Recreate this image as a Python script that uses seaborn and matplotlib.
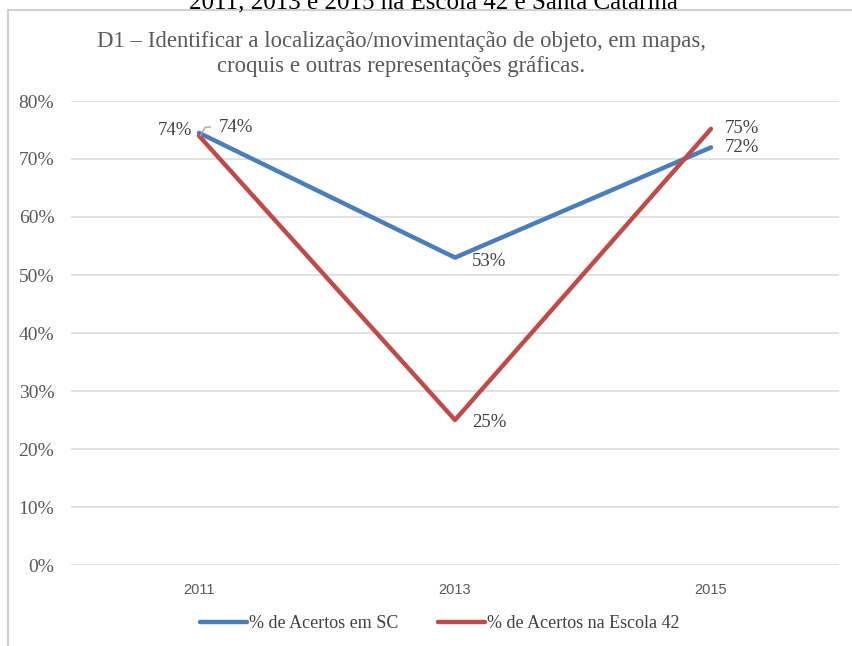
import matplotlib
matplotlib.use("Agg")
import matplotlib.pyplot as plt
import numpy as np
import pandas as pd
import seaborn as sns
from matplotlib.lines import Line2D
from matplotlib.ticker import FuncFormatter

# Data
years = ["2011", "2013", "2015"]
acertos_sc = [0.745, 0.53, 0.72]
acertos_escola = [0.74, 0.25, 0.752]
series_names = ["% de Acertos em SC", "% de Acertos na Escola 42"]
colors = ["#4A7EBB", "#BE4B48"]

sns.set_theme(style="white")
plt.rcParams["font.family"] = ["Liberation Serif", "DejaVu Serif"]

df = pd.DataFrame({
    "Ano": years * 2,
    "Valor": acertos_sc + acertos_escola,
    "Serie": [series_names[0]] * len(years) + [series_names[1]] * len(years),
})

fig = plt.figure(figsize=(8.52, 6.46), dpi=100)
ax = fig.add_axes([71 / 852, 1 - 565 / 646, 768 / 852, 464 / 646])

sns.lineplot(data=df, x="Ano", y="Valor", hue="Serie", palette=colors,
             linewidth=3.2, ax=ax, legend=False, sort=False)

ax.set_xlim(-0.5, 2.5)
ax.set_ylim(0, 0.8)
ax.set_yticks(np.arange(0, 0.81, 0.1))
ax.yaxis.set_major_formatter(FuncFormatter(lambda v, p: f"{v*100:.0f}%"))
ax.set_xlabel("")
ax.set_ylabel("")
ax.grid(axis="y", color="#D9D9D9", linewidth=1.1)
ax.set_axisbelow(True)
for s in ax.spines.values():
    s.set_visible(False)
ax.tick_params(axis="y", labelsize=14, colors="#595959", length=0, pad=12)
ax.tick_params(axis="x", labelsize=10.5, colors="#595959", length=0, pad=13)
for lbl in ax.get_xticklabels():
    lbl.set_family(["Liberation Sans Narrow", "Liberation Sans", "DejaVu Sans"])

# data labels
lab_kw = dict(fontsize=13.5, color="#404040")
ax.annotate(f"{acertos_sc[0]*100:.0f}%", (0, acertos_sc[0]), xytext=(-5, 2),
            textcoords="offset points", ha="right", va="center", **lab_kw)
ax.annotate(f"{acertos_escola[0]*100:.0f}%", (0, acertos_escola[0]), xytext=(14, 6),
            textcoords="offset points", ha="left", va="center", **lab_kw)
ax.plot([0.005, 0.025, 0.045], [acertos_escola[0], 0.755, 0.755],
        color="#A6A6A6", lw=1)
ax.annotate(f"{acertos_sc[1]*100:.0f}%", (1, acertos_sc[1]), xytext=(12, -3),
            textcoords="offset points", ha="left", va="center", **lab_kw)
ax.annotate(f"{acertos_escola[1]*100:.0f}%", (1, acertos_escola[1]), xytext=(12, -2),
            textcoords="offset points", ha="left", va="center", **lab_kw)
ax.annotate(f"{acertos_escola[2]*100:.0f}%", (2, acertos_escola[2]), xytext=(10, 0),
            textcoords="offset points", ha="left", va="center", **lab_kw)
ax.annotate(f"{acertos_sc[2]*100:.0f}%", (2, acertos_sc[2]), xytext=(10, 0),
            textcoords="offset points", ha="left", va="center", **lab_kw)

# titles (the first line is cut by the top edge, as in the source)
fig.text(433 / 852, 1 - 8 / 646, "2011, 2013 e 2015 na Escola 42 e Santa Catarina",
         ha="center", va="baseline", fontsize=18, color="#000000")
fig.text(401 / 852, 1 - 54 / 646,
         "D1 – Identificar a localização/movimentação de objeto, em mapas,\n"
         "croquis e outras representações gráficas.",
         ha="center", va="center", fontsize=16.4, color="#595959",
         linespacing=1.3)

# frame
frame_kw = dict(color="#D0D0D0", lw=1.5, transform=fig.transFigure)
fig.add_artist(Line2D([8 / 852, 8 / 852], [0, 1 - 10 / 646], **frame_kw))
fig.add_artist(Line2D([8 / 852, 1], [1 - 10 / 646, 1 - 10 / 646], **frame_kw))

handles = [Line2D([], [], color=c, lw=3.2) for c in colors]
fig.legend(handles, series_names, loc="center", bbox_to_anchor=(440 / 852, 1 - 624 / 646),
           ncol=2, frameon=False, fontsize=13, handlelength=2.6, handletextpad=0.1,
           columnspacing=2.2, labelcolor="#404040")

fig.savefig("out.png", dpi=100)
